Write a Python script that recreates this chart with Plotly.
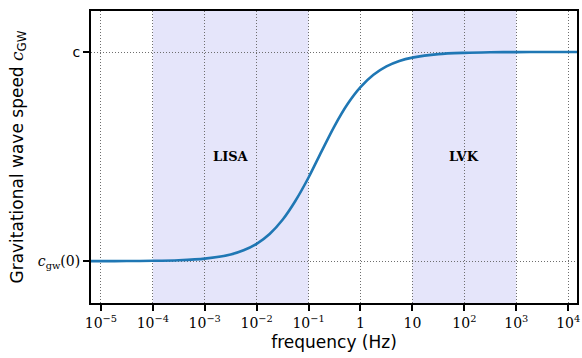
import plotly.graph_objects as go
import math

# data
freq_hz = [5.6e-6, 1e-5, 3.16e-5, 1e-4, 3.16e-4, 1e-3, 3.16e-3, 5.6e-3, 1e-2,
           1.78e-2, 3.16e-2, 5.6e-2, 1e-1, 1.78e-1, 3.16e-1, 5.6e-1, 1.0,
           1.78, 3.16, 5.6, 10.0, 31.6, 100.0, 316.0, 1000.0, 3160.0, 17800.0]
speed = [0.0, 0.0002, 0.0006, 0.0017, 0.0045, 0.012, 0.032, 0.052, 0.083,
         0.13, 0.198, 0.289, 0.40, 0.525, 0.646, 0.75, 0.832,
         0.891, 0.931, 0.957, 0.973, 0.99, 0.996, 0.9986, 0.9995, 1.0, 1.0]

bands = [("LISA", 1e-4, 1e-1, 10**-2.5), ("LVK", 10.0, 1e3, 100.0)]
band_label_y = 0.5

xtick_vals = [1e-5, 1e-4, 1e-3, 1e-2, 1e-1, 1, 10, 100, 1e3, 1e4]
xtick_text = ["10<sup>−5</sup>", "10<sup>−4</sup>", "10<sup>−3</sup>", "10<sup>−2</sup>",
              "10<sup>−1</sup>", "1", "10", "10<sup>2</sup>", "10<sup>3</sup>", "10<sup>4</sup>"]
ytick_vals = [0, 1]
ytick_text = ["<i>c</i><sub>gw</sub>(0)", "<span style='font-family:DejaVu Sans'>c</span>"]

fig = go.Figure()
for name, lo, hi, mid in bands:
    fig.add_vrect(x0=lo, x1=hi, fillcolor="rgb(229,229,250)", line_width=0, layer="below")
    fig.add_annotation(x=math.log10(mid), y=band_label_y, text=f"<b>{name}</b>", showarrow=False,
                       xref="x", yref="y",
                       font=dict(family="DejaVu Serif", size=13, color="black"))

fig.add_trace(go.Scatter(x=freq_hz, y=speed, mode="lines",
                         line=dict(color="#1f77b4", width=2.6, shape="spline", smoothing=0.8),
                         showlegend=False))

grid_style = dict(showgrid=True, gridcolor="rgb(110,110,110)", gridwidth=1, griddash="1px,2px")
axis_style = dict(ticks="outside", ticklen=6, tickwidth=1.5, tickcolor="black",
                  showline=True, linewidth=2, linecolor="black", mirror=True, zeroline=False)

fig.update_layout(
    width=582, height=358,
    margin=dict(l=91, r=3, t=11, b=55),
    plot_bgcolor="white", paper_bgcolor="white",
    font=dict(family="DejaVu Serif", size=14, color="black"),
)
fig.update_xaxes(type="log", range=[-5.19, 4.17],
                 tickvals=xtick_vals, ticktext=xtick_text,
                 **axis_style, **grid_style,
                 title=dict(text="frequency (Hz)", standoff=6,
                            font=dict(family="DejaVu Sans", size=17)))
fig.update_yaxes(range=[-0.2, 1.196],
                 tickvals=ytick_vals, ticktext=ytick_text,
                 **axis_style, **grid_style,
                 title=dict(text="Gravitational wave speed <i><span style='font-family:DejaVu Serif'>c</span></i><sub>GW</sub>",
                            standoff=10, font=dict(family="DejaVu Sans", size=17)))

fig.write_html("out.html")
